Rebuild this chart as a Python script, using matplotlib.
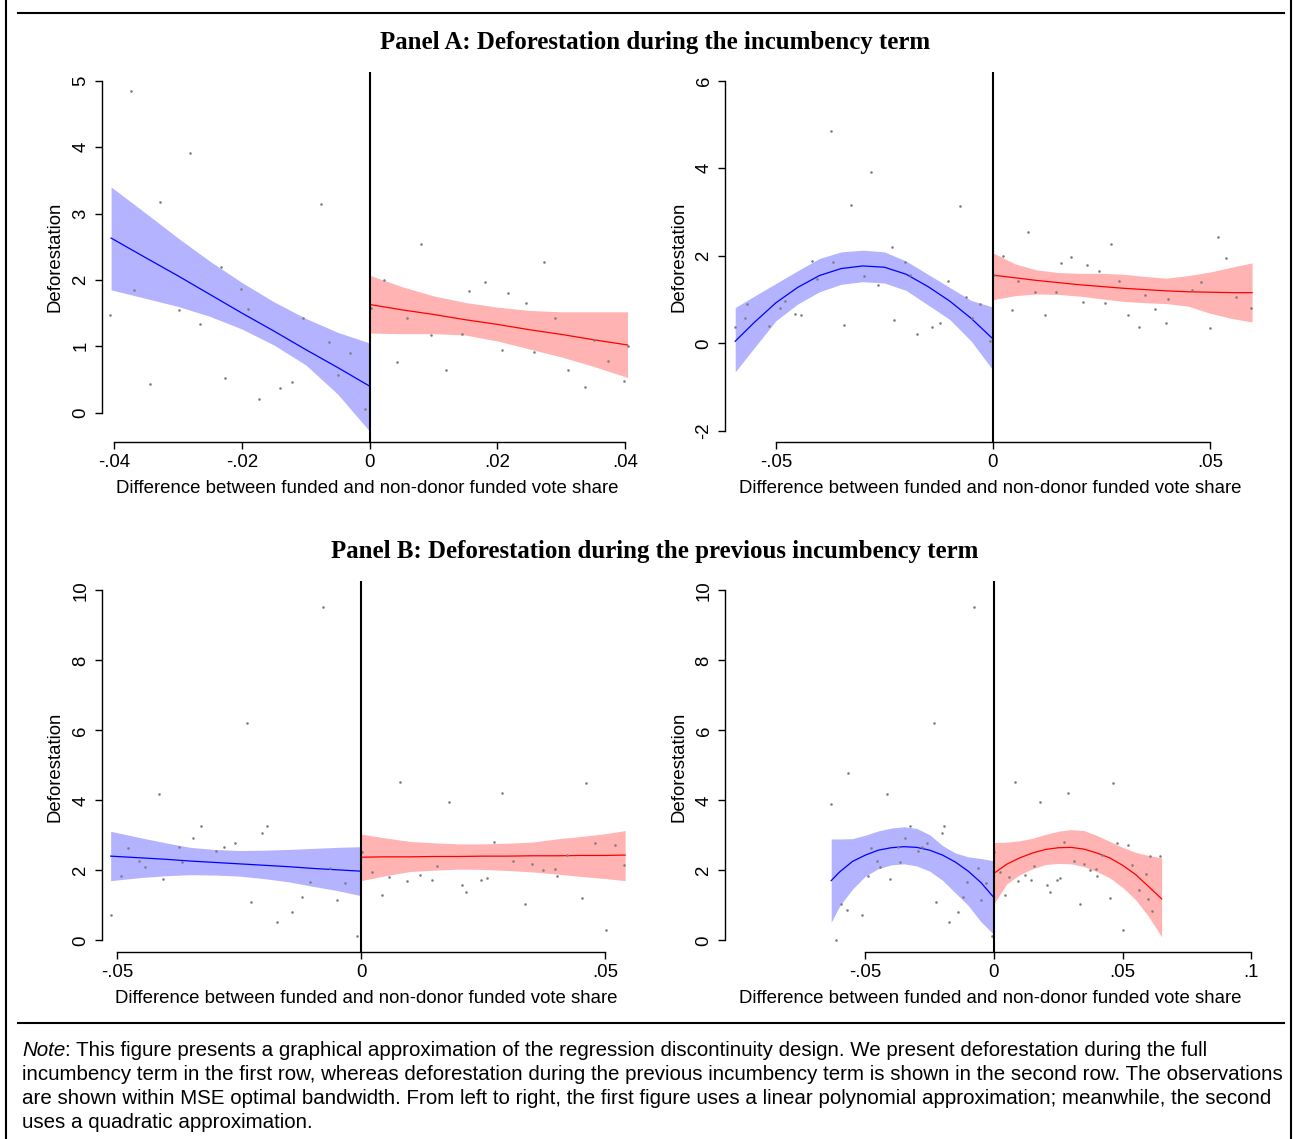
import numpy as np
import matplotlib
matplotlib.use('Agg')
import matplotlib.pyplot as plt
from matplotlib.lines import Line2D

W, H = 1301, 1139

# ---- Panel A: deforestation during incumbency term (shared scatter) ----
a_left_x = [-0.0594, -0.0572, -0.0566, -0.0515, -0.0491, -0.0479, -0.0456, -0.0443, -0.0416, -0.0406,
            -0.0374, -0.0369, -0.0344, -0.0328, -0.0298, -0.0281, -0.0265, -0.0233, -0.0227, -0.0202,
            -0.0191, -0.0174, -0.0141, -0.0121, -0.0104, -0.0076, -0.0063, -0.0049, -0.0031, -0.0008]
a_left_y = [0.38, 0.59, 0.91, 0.40, 0.80, 0.97, 0.68, 0.65, 1.89, 1.47,
            4.85, 1.85, 0.43, 3.17, 1.54, 3.91, 1.34, 2.20, 0.53, 1.87,
            1.56, 0.21, 0.37, 0.46, 1.43, 3.15, 1.06, 0.57, 0.90, 0.05]
a_right_x = [0.0002, 0.0022, 0.0043, 0.0058, 0.0080, 0.0096, 0.0120, 0.0145, 0.0156, 0.0180,
             0.0207, 0.0216, 0.0245, 0.0257, 0.0273, 0.0290, 0.0311, 0.0337, 0.0351, 0.0373,
             0.0398, 0.0404, 0.0459, 0.0480, 0.0501, 0.0519, 0.0537, 0.0560, 0.0594]
a_right_y = [1.57, 2.00, 0.77, 1.42, 2.54, 1.17, 0.65, 1.18, 1.83, 1.97,
             0.94, 1.80, 1.65, 0.92, 2.27, 1.43, 0.65, 0.38, 1.10, 0.78,
             0.47, 1.01, 1.23, 1.40, 0.36, 2.43, 1.95, 1.06, 0.80]

# linear fit, panel A (left figure)
a1_bw = 0.041
a1_blue_x = [-0.0405, -0.035, -0.030, -0.025, -0.020, -0.015, -0.010, -0.005, 0.0]
a1_blue_fit = [2.63, 2.33, 2.06, 1.78, 1.50, 1.23, 0.95, 0.68, 0.40]
a1_blue_lo = [1.85, 1.72, 1.60, 1.45, 1.26, 1.02, 0.72, 0.28, -0.28]
a1_blue_hi = [3.40, 3.00, 2.63, 2.28, 1.96, 1.67, 1.42, 1.21, 1.05]
a1_red_x = [0.0, 0.005, 0.010, 0.015, 0.020, 0.025, 0.030, 0.035, 0.0404]
a1_red_fit = [1.63, 1.55, 1.48, 1.40, 1.33, 1.25, 1.18, 1.10, 1.02]
a1_red_lo = [1.20, 1.19, 1.19, 1.17, 1.08, 0.96, 0.84, 0.70, 0.53]
a1_red_hi = [2.07, 1.90, 1.76, 1.66, 1.59, 1.54, 1.52, 1.52, 1.52]

# quadratic fit, panel A (right figure)
a2_bw = 0.06
a2_blue_x = [-0.0594, -0.055, -0.050, -0.045, -0.040, -0.035, -0.030, -0.025, -0.020, -0.015, -0.010, -0.005, -0.0003]
a2_blue_fit = [0.05, 0.48, 0.93, 1.28, 1.55, 1.71, 1.77, 1.74, 1.58, 1.30, 0.97, 0.57, 0.13]
a2_blue_lo = [-0.65, -0.10, 0.52, 0.90, 1.18, 1.35, 1.41, 1.38, 1.21, 0.88, 0.55, 0.05, -0.57]
a2_blue_hi = [0.82, 1.08, 1.37, 1.66, 1.94, 2.09, 2.13, 2.09, 1.88, 1.58, 1.28, 0.98, 0.84]
a2_red_x = [0.0, 0.005, 0.010, 0.015, 0.020, 0.025, 0.030, 0.035, 0.040, 0.045, 0.050, 0.055, 0.0597]
a2_red_fit = [1.56, 1.50, 1.44, 1.39, 1.34, 1.30, 1.26, 1.23, 1.20, 1.18, 1.17, 1.16, 1.16]
a2_red_lo = [1.00, 1.09, 1.13, 1.12, 1.08, 1.02, 0.96, 0.93, 0.91, 0.85, 0.69, 0.57, 0.49]
a2_red_hi = [2.07, 1.82, 1.68, 1.62, 1.60, 1.60, 1.58, 1.53, 1.49, 1.55, 1.63, 1.74, 1.84]

# ---- Panel B: deforestation during previous incumbency term ----
b_left_x = [-0.0633, -0.0615, -0.0595, -0.0572, -0.0568, -0.0513, -0.0491, -0.0478, -0.0455, -0.0443,
            -0.0415, -0.0406, -0.0374, -0.0366, -0.0345, -0.0327, -0.0297, -0.0280, -0.0259, -0.0234,
            -0.0226, -0.0202, -0.0193, -0.0173, -0.0141, -0.0122, -0.0105, -0.0077, -0.0064, -0.0050,
            -0.0032, -0.0008]
b_left_y = [3.91, 0.02, 1.04, 0.86, 4.78, 0.73, 1.83, 2.65, 2.27, 2.10,
            4.18, 1.76, 2.68, 2.23, 2.92, 3.27, 2.56, 2.66, 2.79, 6.21,
            1.09, 3.06, 3.27, 0.54, 0.81, 1.23, 1.66, 9.54, 2.06, 1.17,
            1.64, 0.14]
b_right_x = [0.0001, 0.0022, 0.0042, 0.0057, 0.0080, 0.0095, 0.0120, 0.0145, 0.0156, 0.0180,
             0.0206, 0.0216, 0.0245, 0.0257, 0.0273, 0.0289, 0.0311, 0.0336, 0.0351, 0.0372,
             0.0398, 0.0402, 0.0422, 0.0452, 0.0461, 0.0480, 0.0501, 0.0520, 0.0538, 0.0564,
             0.0593, 0.0599, 0.0607, 0.0615, 0.0647]
b_right_y = [2.52, 1.95, 1.31, 1.81, 4.52, 1.70, 1.87, 1.72, 2.13, 3.96,
             1.58, 1.39, 1.74, 1.78, 2.81, 4.20, 2.28, 1.03, 2.18, 2.02,
             2.04, 1.85, 2.44, 1.22, 4.51, 2.79, 0.29, 2.74, 2.15, 1.43,
             1.90, 1.19, 2.40, 0.84, 2.42]

b1_bw = 0.055
b1_blue_x = [-0.0513, -0.045, -0.040, -0.035, -0.030, -0.025, -0.020, -0.015, -0.010, -0.005, 0.0]
b1_blue_fit = [2.41, 2.36, 2.32, 2.27, 2.23, 2.19, 2.15, 2.11, 2.06, 2.02, 1.98]
b1_blue_lo = [1.71, 1.80, 1.85, 1.88, 1.87, 1.84, 1.77, 1.68, 1.55, 1.43, 1.28]
b1_blue_hi = [3.12, 2.93, 2.79, 2.66, 2.60, 2.57, 2.58, 2.60, 2.63, 2.66, 2.68]
b1_red_x = [0.0, 0.005, 0.010, 0.015, 0.020, 0.025, 0.030, 0.035, 0.040, 0.045, 0.050, 0.0541]
b1_red_fit = [2.38, 2.39, 2.39, 2.40, 2.40, 2.41, 2.41, 2.42, 2.42, 2.43, 2.43, 2.44]
b1_red_lo = [1.71, 1.85, 1.97, 2.01, 2.04, 2.03, 2.00, 1.96, 1.90, 1.83, 1.77, 1.71]
b1_red_hi = [3.04, 2.93, 2.83, 2.79, 2.76, 2.76, 2.78, 2.81, 2.90, 2.97, 3.05, 3.14]

b2_bw = 0.065
b2_blue_x = [-0.0633, -0.060, -0.055, -0.050, -0.045, -0.040, -0.035, -0.030, -0.025, -0.020, -0.015, -0.010, -0.005, -0.0003]
b2_blue_fit = [1.71, 1.96, 2.26, 2.44, 2.58, 2.65, 2.68, 2.66, 2.58, 2.44, 2.24, 1.98, 1.65, 1.25]
b2_blue_lo = [0.52, 0.99, 1.47, 1.84, 2.05, 2.16, 2.19, 2.13, 1.98, 1.72, 1.36, 1.00, 0.53, 0.19]
b2_blue_hi = [2.90, 2.90, 2.91, 3.01, 3.13, 3.21, 3.25, 3.20, 3.02, 2.71, 2.50, 2.39, 2.34, 2.28]
b2_red_x = [0.0, 0.005, 0.010, 0.015, 0.020, 0.025, 0.030, 0.035, 0.040, 0.045, 0.050, 0.055, 0.060, 0.0652]
b2_red_fit = [1.92, 2.18, 2.36, 2.50, 2.60, 2.65, 2.66, 2.61, 2.50, 2.36, 2.15, 1.89, 1.55, 1.19]
b2_red_lo = [1.05, 1.62, 1.88, 2.05, 2.17, 2.20, 2.19, 2.11, 1.97, 1.79, 1.52, 1.17, 0.70, 0.10]
b2_red_hi = [2.80, 2.81, 2.85, 2.92, 3.03, 3.12, 3.17, 3.14, 3.00, 2.83, 2.66, 2.52, 2.43, 2.36]

# ticks
a1_xticks = [-0.04, -0.02, 0, 0.02, 0.04]
a1_xticklabels = ['-.04', '-.02', '0', '.02', '.04']
a1_yticks = [0, 1, 2, 3, 4, 5]
a2_xticks = [-0.05, 0, 0.05]
a2_xticklabels = ['-.05', '0', '.05']
a2_yticks = [-2, 0, 2, 4, 6]
b1_xticks = [-0.05, 0, 0.05]
b1_xticklabels = ['-.05', '0', '.05']
b_yticks = [0, 2, 4, 6, 8, 10]
b2_xticks = [-0.05, 0, 0.05, 0.1]
b2_xticklabels = ['-.05', '0', '.05', '.1']

XLABEL = 'Difference between funded and non-donor funded vote share'
YLABEL = 'Deforestation'
TITLE_A = 'Panel A: Deforestation during the incumbency term'
TITLE_B = 'Panel B: Deforestation during the previous incumbency term'
NOTE_LINES = [
    ': This figure presents a graphical approximation of the regression discontinuity design. We present deforestation during the full',
    'incumbency term in the first row, whereas deforestation during the previous incumbency term is shown in the second row. The observations',
    'are shown within MSE optimal bandwidth. From left to right, the first figure uses a linear polynomial approximation; meanwhile, the second',
    'uses a quadratic approximation.',
]

BLUE_BAND = '#b3b3ff'
RED_BAND = '#ffb3b3'
SANS = ['Liberation Sans', 'DejaVu Sans']
SERIF = ['Liberation Serif', 'DejaVu Serif']
FS = 13.4

fig = plt.figure(figsize=(W / 100, H / 100), dpi=100)


def px_axes(left, right, top, bottom):
    return fig.add_axes([left / W, 1 - bottom / H, (right - left) / W, (bottom - top) / H])


def draw_panel(rect, xlim, ylim, xticks, xticklabels, yticks,
               lx, ly, rx, ry, bw, blue, red):
    ax = px_axes(*rect)
    ax.set_xlim(*xlim)
    ax.set_ylim(*ylim)

    bx, bfit, blo, bhi = blue
    ax.fill_between(bx, blo, bhi, color=BLUE_BAND, lw=0, zorder=1)
    ax.plot(bx, bfit, color='#0000ff', lw=0.9, zorder=3)
    rxx, rfit, rlo, rhi = red
    ax.fill_between(rxx, rlo, rhi, color=RED_BAND, lw=0, zorder=1)
    ax.plot(rxx, rfit, color='#ff0000', lw=0.9, zorder=3)

    lx, ly = np.array(lx), np.array(ly)
    rx, ry = np.array(rx), np.array(ry)
    keep_l = np.abs(lx) <= bw
    keep_r = np.abs(rx) <= bw
    ax.scatter(lx[keep_l], ly[keep_l], s=3.5, color='#7f7f7f', linewidths=0, zorder=4)
    ax.scatter(rx[keep_r], ry[keep_r], s=3.5, color='#7f7f7f', linewidths=0, zorder=4)

    ax.axvline(0, color='black', lw=1.5, zorder=5)

    for side in ['top', 'right']:
        ax.spines[side].set_visible(False)
    ax.spines['left'].set_bounds(min(yticks), max(yticks))
    ax.spines['bottom'].set_bounds(min(xticks), max(xticks))
    for side in ['left', 'bottom']:
        ax.spines[side].set_linewidth(1.0)

    ax.set_xticks(xticks)
    ax.set_xticklabels(xticklabels, family=SANS, fontsize=FS)
    ax.set_yticks(yticks)
    ax.set_yticklabels([str(v) for v in yticks], family=SANS, fontsize=FS,
                       rotation=90, va='center')
    ax.tick_params(length=5, width=1.0, pad=4)
    ax.set_xlabel(XLABEL, family=SANS, fontsize=FS, labelpad=6)
    ax.set_ylabel(YLABEL, family=SANS, fontsize=FS, labelpad=6)
    return ax


draw_panel((101.7, 632, 72, 441.7), (-0.04197, 0.0411), (-0.4367, 5.131),
           a1_xticks, a1_xticklabels, a1_yticks,
           a_left_x, a_left_y, a_right_x, a_right_y, a1_bw,
           (a1_blue_x, a1_blue_fit, a1_blue_lo, a1_blue_hi),
           (a1_red_x, a1_red_fit, a1_red_lo, a1_red_hi))

draw_panel((725, 1256, 72, 441.7), (-0.06175, 0.0606), (-2.244, 6.199),
           a2_xticks, a2_xticklabels, a2_yticks,
           a_left_x, a_left_y, a_right_x, a_right_y, a2_bw,
           (a2_blue_x, a2_blue_fit, a2_blue_lo, a2_blue_hi),
           (a2_red_x, a2_red_fit, a2_red_lo, a2_red_hi))

draw_panel((101.7, 630, 581, 951.7), (-0.05314, 0.0551), (-0.32, 10.27),
           b1_xticks, b1_xticklabels, b_yticks,
           b_left_x, b_left_y, b_right_x, b_right_y, b1_bw,
           (b1_blue_x, b1_blue_fit, b1_blue_lo, b1_blue_hi),
           (b1_red_x, b1_red_fit, b1_red_lo, b1_red_hi))

draw_panel((725, 1256, 581, 951.7), (-0.1046, 0.1019), (-0.32, 10.27),
           b2_xticks, b2_xticklabels, b_yticks,
           b_left_x, b_left_y, b_right_x, b_right_y, b2_bw,
           (b2_blue_x, b2_blue_fit, b2_blue_lo, b2_blue_hi),
           (b2_red_x, b2_red_fit, b2_red_lo, b2_red_hi))

# panel titles
fig.text(655 / W, 1 - 43 / H, TITLE_A, ha='center', va='center',
         family=SERIF, fontweight='bold', fontsize=17.9)
fig.text(655 / W, 1 - 551 / H, TITLE_B, ha='center', va='center',
         family=SERIF, fontweight='bold', fontsize=17.9)

# frame and rules
fig.add_artist(Line2D([6 / W, 6 / W], [0, 1], color='black', lw=1.5))
fig.add_artist(Line2D([1291 / W, 1291 / W], [0, 1], color='black', lw=1.5))
fig.add_artist(Line2D([18 / W, 1284 / W], [1 - 12.5 / H, 1 - 12.5 / H], color='black', lw=1.5))
fig.add_artist(Line2D([18 / W, 1284 / W], [1 - 1023 / H, 1 - 1023 / H], color='black', lw=1.5))

# note
NOTE_FS = 14.8
note_y = [1050, 1074, 1098, 1122]
t0 = fig.text(22 / W, 1 - note_y[0] / H, 'Note', ha='left', va='center',
              family=SANS, style='italic', fontsize=NOTE_FS)
plt.annotate(NOTE_LINES[0], xy=(1, 0.5), xycoords=t0, ha='left', va='center',
             family=SANS, fontsize=NOTE_FS)
for yy, line in zip(note_y[1:], NOTE_LINES[1:]):
    fig.text(22 / W, 1 - yy / H, line, ha='left', va='center', family=SANS, fontsize=NOTE_FS)

fig.savefig('out.png', dpi=100)
